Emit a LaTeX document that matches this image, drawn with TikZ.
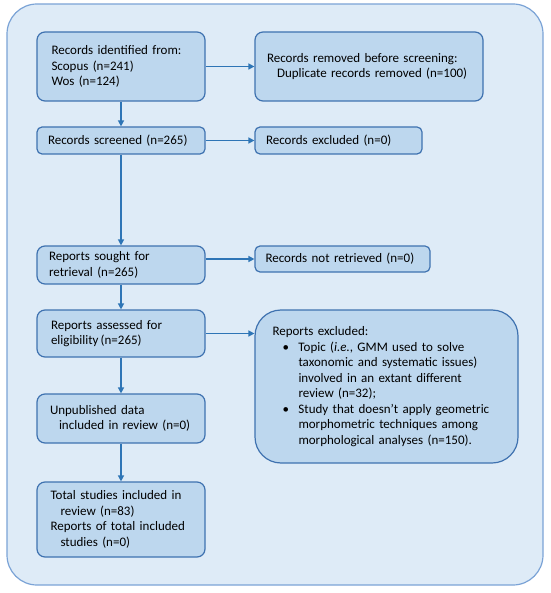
\documentclass[tikz,border=0pt]{standalone}
\usepackage{fontspec}
\setmainfont{Carlito}
\usetikzlibrary{arrows.meta,calc}
\definecolor{outerfill}{HTML}{DEEBF7}
\definecolor{outerline}{HTML}{7BA3D6}
\definecolor{boxfill}{HTML}{BDD7EE}
\definecolor{boxline}{HTML}{3F72B0}
\definecolor{arrowc}{HTML}{2E75B6}
\tikzset{
  flowbox/.style={draw=boxline, fill=boxfill, line width=1.2pt, rounded corners=8pt,
    inner xsep=0pt, inner ysep=0pt, align=left,
    font=\fontsize{13}{15.5}\selectfont},
  conn/.style={draw=arrowc, line width=1.4pt, -{Triangle[length=6pt,width=6pt]}}
}
\begin{document}
\begin{tikzpicture}[x=1pt,y=-1pt]
\useasboundingbox (0,0) rectangle (550,593);
\draw[fill=outerfill, draw=outerline, line width=1.2pt, rounded corners=30pt] (7,4) rectangle (543,585);
\node[flowbox, minimum width=168pt, minimum height=69pt, text width=139pt] (b1) at (121,66.5)
  {Records identified from:\\Scopus (n=241)\\Wos (n=124)};
\node[flowbox, minimum width=228pt, minimum height=69pt, text width=204pt] (b2) at (369,66.5)
  {Records removed before screening:\\\hspace*{10pt}Duplicate records removed (n=100)};
\node[flowbox, rounded corners=5pt, minimum width=168pt, minimum height=27pt, text width=146pt] (b3) at (121,140.5)
  {Records screened (n=265)};
\node[flowbox, rounded corners=5pt, minimum width=167pt, minimum height=27pt, text width=145pt] (b4) at (338.5,140.5)
  {Records excluded (n=0)};
\node[flowbox, minimum width=168pt, minimum height=38pt, text width=144pt] (b5) at (121,265)
  {Reports sought for\\retrieval (n=265)};
\node[flowbox, rounded corners=5pt, minimum width=175pt, minimum height=26pt, text width=154pt] (b6) at (342.5,259)
  {Records not retrieved (n=0)};
\node[flowbox, minimum width=168pt, minimum height=47pt, text width=140pt] (b7) at (121,333.5)
  {Reports assessed for\\eligibility\,(n=265)};
\node[flowbox, rounded corners=26pt, minimum width=263pt, minimum height=153pt, text width=228pt] (b8) at (386.5,386.5)
  {Reports excluded:\\
   \hspace*{10pt}\makebox[16pt][l]{•}Topic (\textit{i.e.}, GMM used to solve\\
   \hspace*{26pt}taxonomic and systematic issues)\\
   \hspace*{26pt}involved in an extant different\\
   \hspace*{26pt}review (n=32);\\
   \hspace*{10pt}\makebox[16pt][l]{•}Study that doesn’t apply geometric\\
   \hspace*{26pt}morphometric techniques among\\
   \hspace*{26pt}morphological analyses (n=150).};
\node[flowbox, minimum width=168pt, minimum height=49pt, text width=142pt] (b9) at (121,418.5)
  {Unpublished data\\\hspace*{9pt}included in review (n=0)};
\node[flowbox, minimum width=168pt, minimum height=75pt, text width=141pt] (b10) at (121,519.5)
  {Total studies included in\\\hspace*{10pt}review (n=83)\\Reports of total included\\\hspace*{10pt}studies (n=0)};
\draw[conn] (b1) -- (b2);
\draw[conn] (b3) -- (b4);
\draw[conn] (b5.east |- b6.west) -- (b6.west);
\draw[conn] (b7.east) -- (b7.east -| b8.west);
\draw[conn] (b1) -- (b3);
\draw[conn] (b3) -- (b5);
\draw[conn] (b5) -- (b7);
\draw[conn] (b7) -- (b9);
\draw[conn] (b9) -- (b10);
\end{tikzpicture}
\end{document}
